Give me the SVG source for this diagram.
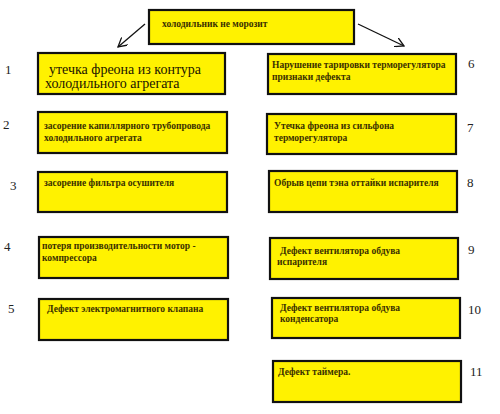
<svg xmlns="http://www.w3.org/2000/svg" width="500" height="414" viewBox="0 0 500 414">
<style>
.b{fill:#fff200;stroke:#111;stroke-width:2.2}
.t{font-family:"Liberation Serif","DejaVu Serif",serif;font-size:9.5px;font-weight:bold;fill:#3a3000}
.big{font-family:"Liberation Serif","DejaVu Serif",serif;font-size:14px;fill:#1a1400}
.n{font-family:"Liberation Serif","DejaVu Serif",serif;font-size:13px;fill:#222}
.c{stroke:#111;stroke-width:1.3;fill:none}
</style>
<defs>
<marker id="a" viewBox="0 0 10 10" refX="9" refY="5" markerWidth="10" markerHeight="10" markerUnits="userSpaceOnUse" orient="auto">
<path d="M0,0 L9,5 L0,10" fill="none" stroke="#111" stroke-width="1.3"/>
</marker>
</defs>
<rect width="500" height="414" fill="#fff"/>
<g id="connectors">
<line class="c" x1="145" y1="24" x2="118" y2="47" marker-end="url(#a)"/>
<line class="c" x1="358" y1="24" x2="404" y2="46" marker-end="url(#a)"/>
</g>
<g id="root"><rect class="b" x="149" y="10" width="205" height="34"/><text class="t" x="162" y="27">холодильник не морозит</text></g>
<g id="n1"><rect class="b" x="38" y="53" width="187" height="41"/><text class="big" x="49" y="74">утечка фреона из контура</text><text class="big" x="45" y="88">холодильного агрегата</text><text class="n" x="5" y="74">1</text></g>
<g id="n2"><rect class="b" x="38" y="112" width="189" height="41"/><text class="t" x="44" y="129">засорение капиллярного трубопровода</text><text class="t" x="44" y="141">холодильного агрегата</text><text class="n" x="3" y="129">2</text></g>
<g id="n3"><rect class="b" x="38" y="172" width="189" height="40"/><text class="t" x="44" y="186">засорение фильтра осушителя</text><text class="n" x="10" y="190">3</text></g>
<g id="n4"><rect class="b" x="39" y="237" width="189" height="41"/><text class="t" x="42" y="249">потеря производительности мотор -</text><text class="t" x="42" y="261">компрессора</text><text class="n" x="4" y="251">4</text></g>
<g id="n5"><rect class="b" x="39" y="299" width="189" height="41"/><text class="t" x="47" y="312">Дефект электромагнитного клапана</text><text class="n" x="8" y="313">5</text></g>
<g id="n6"><rect class="b" x="268" y="54" width="188" height="40"/><text class="t" x="272" y="68">Нарушение тарировки терморегулятора</text><text class="t" x="272" y="80">признаки дефекта</text><text class="n" x="468" y="68">6</text></g>
<g id="n7"><rect class="b" x="267" y="114" width="189" height="40"/><text class="t" x="274" y="129">Утечка фреона из сильфона</text><text class="t" x="274" y="141">терморегулятора</text><text class="n" x="467" y="132">7</text></g>
<g id="n8"><rect class="b" x="269" y="171" width="188" height="41"/><text class="t" x="274" y="186">Обрыв цепи тэна оттайки испарителя</text><text class="n" x="467" y="187">8</text></g>
<g id="n9"><rect class="b" x="270" y="238" width="188" height="41"/><text class="t" x="280" y="254">Дефект вентилятора обдува</text><text class="t" x="277" y="265">испарителя</text><text class="n" x="468" y="254">9</text></g>
<g id="n10"><rect class="b" x="272" y="298" width="188" height="40"/><text class="t" x="280" y="311">Дефект вентилятора обдува</text><text class="t" x="280" y="322">конденсатора</text><text class="n" x="468" y="314">10</text></g>
<g id="n11"><rect class="b" x="273" y="361" width="188" height="41"/><text class="t" x="278" y="375">Дефект таймера.</text><text class="n" x="470" y="376">11</text></g>
</svg>
